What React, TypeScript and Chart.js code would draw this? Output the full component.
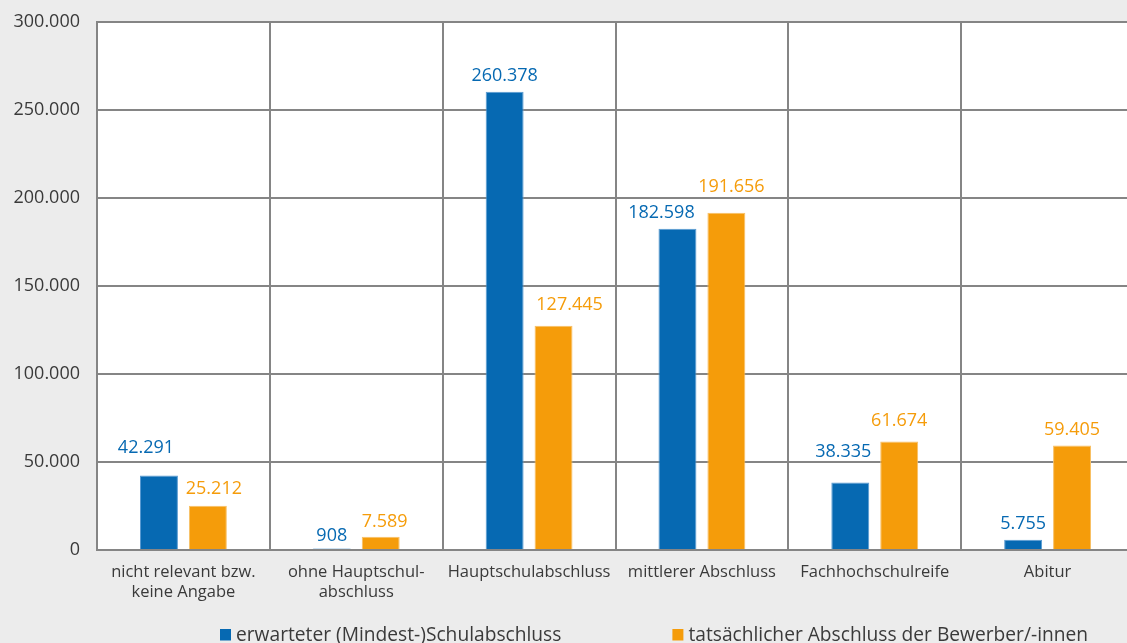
import React, { useEffect, useRef } from "react";
import { Chart, registerables } from "chart.js";

Chart.register(...registerables);

const categories: (string | string[])[] = [
  ["nicht relevant bzw.", "keine Angabe"],
  ["ohne Hauptschul-", "abschluss"],
  "Hauptschulabschluss",
  "mittlerer Abschluss",
  "Fachhochschulreife",
  "Abitur",
];
const expectedValues = [42291, 908, 260378, 182598, 38335, 5755];
const actualValues = [25212, 7589, 127445, 191656, 61674, 59405];
const seriesLabels = [
  "erwarteter (Mindest-)Schulabschluss",
  "tatsächlicher Abschluss der Bewerber/-innen",
];
const yTicks = [0, 50000, 100000, 150000, 200000, 250000, 300000];

// label placement tweaks (style only): [dx, extra dy]
const labelShiftBlue = [[-13, 12], [0, -3], [0, 0], [-16, 0], [-7, 15], [0, 0]];
const labelShiftOrange = [[6, 1], [4, -1], [16, 5], [5, 10], [0, 5], [0, 0]];

const BLUE = "#0669b2";
const ORANGE = "#f59c0a";
const GRID = "#858585";
const TEXT = "#3a3a3a";
const FONT = "'Open Sans', 'DejaVu Sans', sans-serif";

function fmt(v: number): string {
  const s = Math.round(v).toString();
  return s.replace(/\B(?=(\d{3})+(?!\d))/g, ".");
}

const plotBgPlugin = {
  id: "plotBg",
  beforeDraw(chart: any) {
    const { ctx, chartArea } = chart;
    ctx.save();
    ctx.fillStyle = "#ffffff";
    ctx.fillRect(chartArea.left, chartArea.top, chartArea.right - chartArea.left, chartArea.bottom - chartArea.top);
    ctx.restore();
  },
};

const dataLabelPlugin = {
  id: "dataLabels",
  afterDatasetsDraw(chart: any) {
    const ctx = chart.ctx;
    ctx.save();
    ctx.font = `18px ${FONT}`;
    ctx.textAlign = "center";
    ctx.textBaseline = "middle";
    chart.data.datasets.forEach((ds: any, di: number) => {
      const meta = chart.getDatasetMeta(di);
      const shifts = di === 0 ? labelShiftBlue : labelShiftOrange;
      ctx.fillStyle = di === 0 ? BLUE : ORANGE;
      meta.data.forEach((bar: any, i: number) => {
        const [dx, dy] = shifts[i];
        ctx.fillText(fmt(ds.data[i]), bar.x + dx, bar.y - 16 - dy);
      });
    });
    ctx.restore();
  },
};

const legendPlugin = {
  id: "customLegend",
  afterDraw(chart: any) {
    const ctx = chart.ctx;
    ctx.save();
    ctx.font = `19.2px ${FONT}`;
    ctx.textBaseline = "alphabetic";
    ctx.textAlign = "left";
    const colors = [BLUE, ORANGE];
    const baseline = 641;
    let x = 220;
    seriesLabels.forEach((label, i) => {
      ctx.fillStyle = colors[i];
      ctx.fillRect(x, baseline - 12, 11, 11.5);
      ctx.fillStyle = TEXT;
      ctx.fillText(label, x + 16, baseline);
      x += 16 + ctx.measureText(label).width + 111;
    });
    ctx.restore();
  },
};

export default function App() {
  const ref = useRef<HTMLCanvasElement | null>(null);
  useEffect(() => {
    if (!ref.current) return;
    const chart = new Chart(ref.current, {
      type: "bar",
      data: {
        labels: categories,
        datasets: [
          {
            label: seriesLabels[0],
            data: expectedValues,
            backgroundColor: BLUE,
            borderColor: "#5a9bd2",
            borderWidth: 1,
            categoryPercentage: 0.566,
            barPercentage: 0.776,
          },
          {
            label: seriesLabels[1],
            data: actualValues,
            backgroundColor: ORANGE,
            borderColor: "#f8c066",
            borderWidth: 1,
            categoryPercentage: 0.566,
            barPercentage: 0.776,
          },
        ],
      },
      options: {
        responsive: false,
        animation: false,
        devicePixelRatio: 1,
        layout: { padding: { top: 22, right: 6, left: 0, bottom: 0 } },
        plugins: { legend: { display: false }, tooltip: { enabled: false } },
        scales: {
          x: {
            offset: true,
            grid: { display: true, offset: true, color: GRID, lineWidth: 2, drawTicks: false },
            border: { display: true, color: GRID, width: 2 },
            ticks: {
              color: TEXT,
              font: { family: FONT, size: 16.5, lineHeight: 1.18 },
              padding: 13,
              maxRotation: 0,
              autoSkip: false,
            },
            afterFit(scale: any) {
              scale.height = 93;
              scale.paddingLeft = 0;
              scale.paddingRight = 0;
            },
          },
          y: {
            min: 0,
            max: 300000,
            afterBuildTicks(scale: any) {
              scale.ticks = yTicks.map((v) => ({ value: v }));
            },
            grid: { color: GRID, lineWidth: 2, drawTicks: false },
            border: { display: true, color: GRID, width: 2 },
            ticks: {
              color: TEXT,
              font: { family: FONT, size: 18 },
              padding: 17,
              callback: (v: any) => fmt(Number(v)),
            },
            afterFit(scale: any) {
              scale.width = 97;
              scale.paddingTop = 0;
              scale.paddingBottom = 0;
            },
          },
        },
      },
      plugins: [plotBgPlugin, dataLabelPlugin, legendPlugin],
    });
    return () => chart.destroy();
  }, []);
  return (
    <div
      style={{
        position: "fixed",
        left: 0,
        top: 0,
        width: 1127,
        height: 643,
        overflow: "hidden",
        background: "#ececec",
      }}
    >
      <canvas ref={ref} width={1140} height={643} style={{ position: "absolute", left: 0, top: 0 }} />
    </div>
  );
}
